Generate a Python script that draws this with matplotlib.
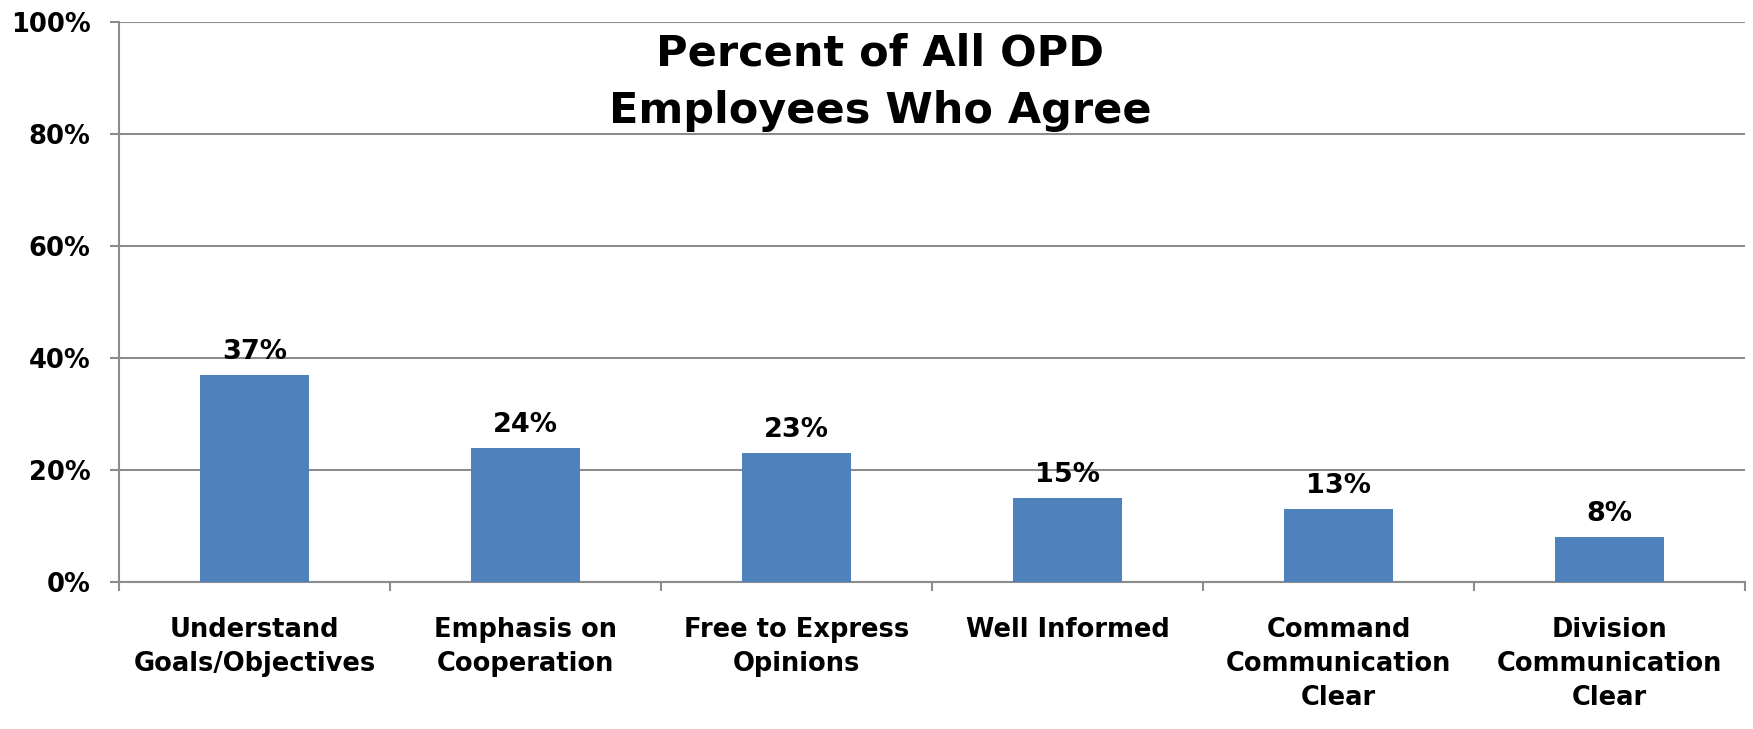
import numpy as np
import matplotlib.pyplot as plt

categories = ['Understand\nGoals/Objectives', 'Emphasis on\nCooperation', 'Free to Express\nOpinions',
              'Well Informed', 'Command\nCommunication\nClear', 'Division\nCommunication\nClear']
pct_agree = [37, 24, 23, 15, 13, 8]
y_ticks = [0, 20, 40, 60, 80, 100]

bar_color = '#4f81bd'
grid_color = '#8c8c8c'
plt.rcParams['font.family'] = ['DejaVu Sans']
plt.rcParams['font.weight'] = 'bold'

fig = plt.figure(figsize=(17.53, 7.29), dpi=100)
ax = fig.add_axes([0.0679, 0.2016, 0.9275, 0.7689])

x = np.arange(len(categories))
bars = ax.bar(x, pct_agree, width=0.4, color=bar_color, zorder=3)
for xi, v in zip(x, pct_agree):
    ax.annotate('%d%%' % v, (xi, v), xytext=(0, 11.5), textcoords='offset points',
                ha='center', va='baseline', fontsize=19.5, fontweight='bold')

ax.set_xlim(-0.5, len(categories) - 0.5)
ax.set_ylim(0, 100)
ax.set_yticks(y_ticks)
ax.set_yticklabels(['%d%%' % t for t in y_ticks], fontsize=18.5, fontweight='bold')
ax.yaxis.grid(True, color=grid_color, lw=1.5, zorder=0)
ax.tick_params(axis='y', length=6.5, width=1.5, color=grid_color, pad=14)

# category labels at bar centres, tick marks on the boundaries
ax.set_xticks(x)
ax.set_xticklabels(categories, fontsize=18.5, fontweight='bold', linespacing=1.4)
ax.tick_params(axis='x', which='major', length=0, pad=25)
ax.set_xticks(np.arange(len(categories) + 1) - 0.5, minor=True)
ax.tick_params(axis='x', which='minor', length=6.5, width=1.5, color=grid_color)

for s in ['top', 'right']:
    ax.spines[s].set_visible(False)
for s in ['left', 'bottom']:
    ax.spines[s].set_color(grid_color)
    ax.spines[s].set_linewidth(1.5)

fig.text(0.502, 0.9108, 'Percent of All OPD', ha='center', va='baseline', fontsize=31, fontweight='bold')
fig.text(0.502, 0.8313, 'Employees Who Agree', ha='center', va='baseline', fontsize=31, fontweight='bold')

fig.savefig('out.png', dpi=100)
